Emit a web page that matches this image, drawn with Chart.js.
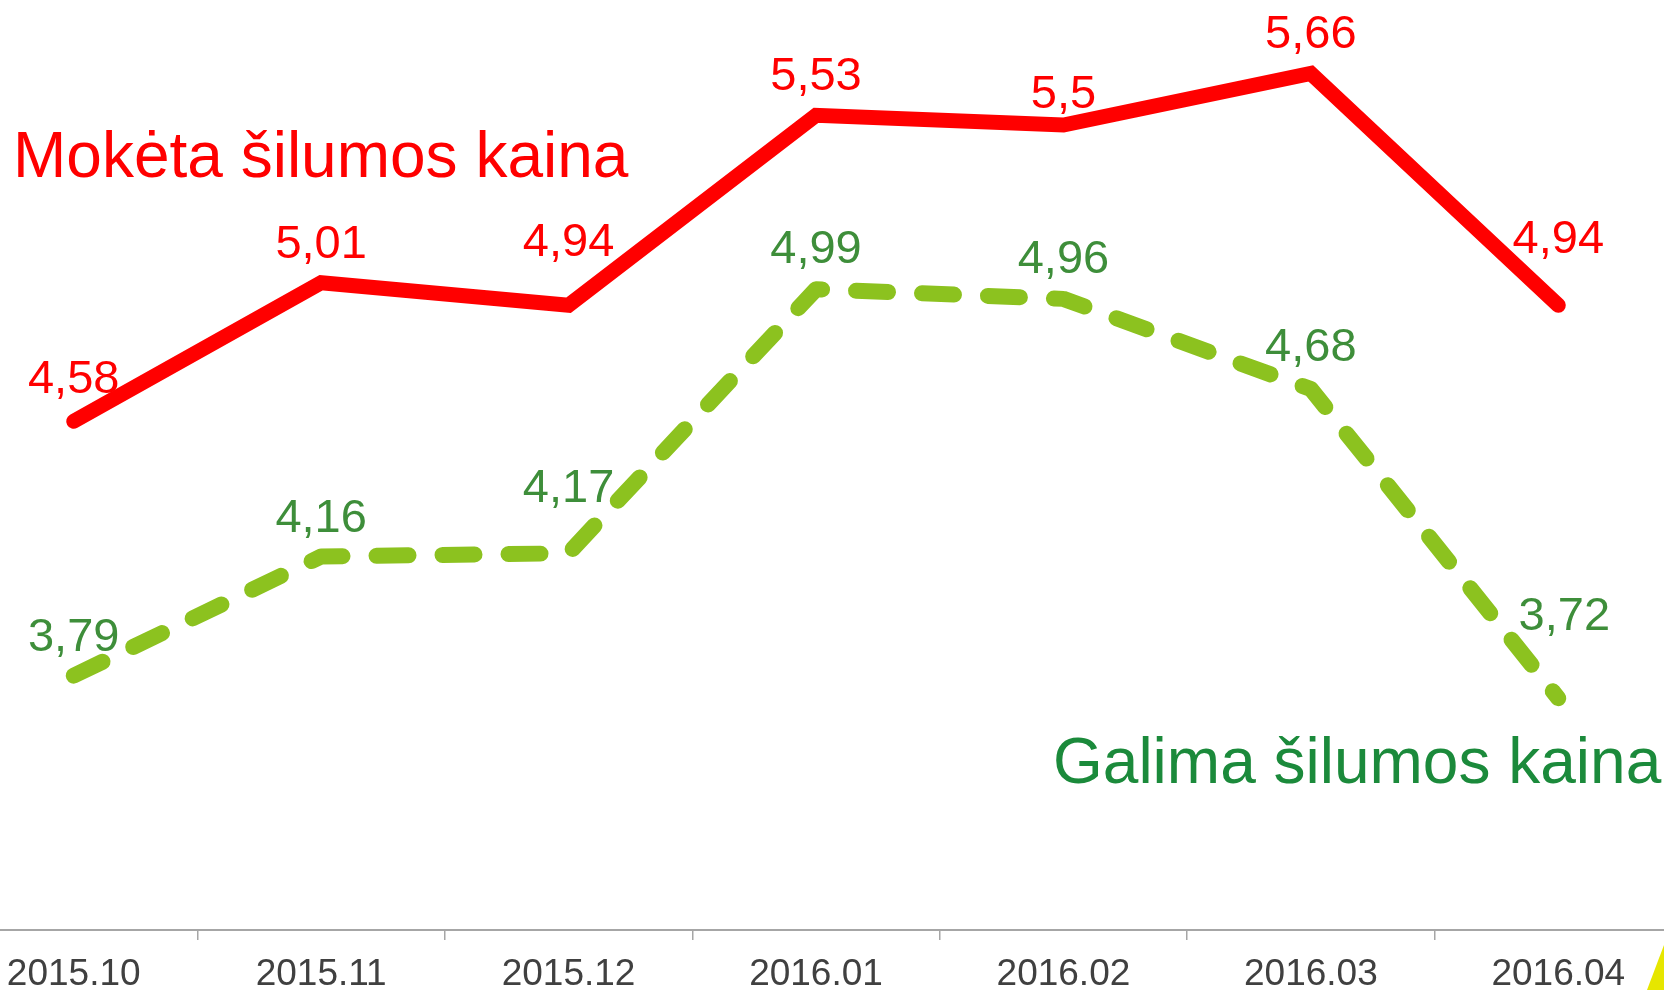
<!DOCTYPE html>
<html>
<head>
<meta charset="utf-8">
<script src="https://cdn.jsdelivr.net/npm/chart.js@4/dist/chart.umd.min.js"></script>
<style>
  html, body { margin: 0; padding: 0; background: #fff; overflow: hidden; width: 1664px; height: 990px; }
  #wrap { position: absolute; left: -50px; top: -36px; width: 1732px; height: 1030px; }
</style>
</head>
<body>
<div id="wrap"><canvas id="heat_chart"></canvas></div>
<script>
var months = ["2015.10", "2015.11", "2015.12", "2016.01", "2016.02", "2016.03", "2016.04"];
var paid_price = [4.58, 5.01, 4.94, 5.53, 5.5, 5.66, 4.94];
var possible_price = [3.79, 4.16, 4.17, 4.99, 4.96, 4.68, 3.72];

// how far above the point each value label sits (px)
var paid_lift = [45, 42, 66, 42, 34, 42, 69];
var possible_lift = [42, 41, 68, 43, 43, 45, 85];

var FONT = "'Liberation Sans', Arial, sans-serif";
var pageX = 50, pageY = 36; // canvas is shifted, page -> canvas coords

var valueLabels = {
  id: "valueLabels",
  afterDatasetsDraw: function(chart) {
    var ctx = chart.ctx;
    ctx.save();
    ctx.font = "47px " + FONT;
    ctx.textAlign = "center";
    ctx.textBaseline = "alphabetic";
    chart.data.datasets.forEach(function(ds, d) {
      var meta = chart.getDatasetMeta(d);
      var lift = d == 0 ? paid_lift : possible_lift;
      ctx.fillStyle = d == 0 ? "#ff0000" : "#3e8e3a";
      meta.data.forEach(function(pt, i) {
        var dx = (d == 1 && i == 6) ? 6 : 0;
        ctx.fillText(String(ds.data[i]).replace(".", ","), pt.x + dx, pt.y - lift[i] + 17);
      });
    });

    // series names
    ctx.textAlign = "left";
    ctx.font = "64px " + FONT;
    ctx.fillStyle = "#ff0000";
    ctx.fillText("Mokėta šilumos kaina", 13 + pageX, 177 + pageY);
    ctx.fillStyle = "#1b8a3b";
    ctx.fillText("Galima šilumos kaina", 1053 + pageX, 783 + pageY);

    // yellow corner of the slide
    ctx.fillStyle = "#e6e600";
    ctx.beginPath();
    ctx.moveTo(1647 + pageX, 990 + pageY);
    ctx.lineTo(1664 + pageX, 945 + pageY);
    ctx.lineTo(1664 + pageX, 990 + pageY);
    ctx.closePath();
    ctx.fill();
    ctx.restore();
  }
};

new Chart("heat_chart", {
  type: "line",
  data: {
    labels: months,
    datasets: [{
      data: paid_price,
      borderColor: "#ff0000",
      borderWidth: 15,
      borderCapStyle: "round",
      borderJoinStyle: "miter",
      pointRadius: 0,
      tension: 0
    }, {
      data: possible_price,
      borderColor: "#8cc21f",
      borderWidth: 16,
      borderDash: [32, 34],
      borderCapStyle: "round",
      borderJoinStyle: "round",
      pointRadius: 0,
      tension: 0
    }]
  },
  options: {
    responsive: true,
    maintainAspectRatio: false,
    animation: false,
    layout: { padding: 0, autoPadding: false },
    plugins: { legend: { display: false }, tooltip: { enabled: false } },
    scales: {
      x: {
        offset: true,
        afterFit: function(scale) { scale.height = 64; },
        grid: {
          offset: true,
          drawOnChartArea: false,
          drawTicks: true,
          tickLength: 10,
          color: "#a6a6a6",
          lineWidth: 1.5
        },
        border: { display: true, color: "#a6a6a6", width: 2 },
        ticks: {
          color: "#404040",
          padding: 13,
          maxRotation: 0,
          autoSkip: false,
          font: { family: FONT, size: 37 }
        }
      },
      y: {
        display: false,
        min: 3,
        max: 6
      }
    }
  },
  plugins: [valueLabels]
});
</script>
</body>
</html>
